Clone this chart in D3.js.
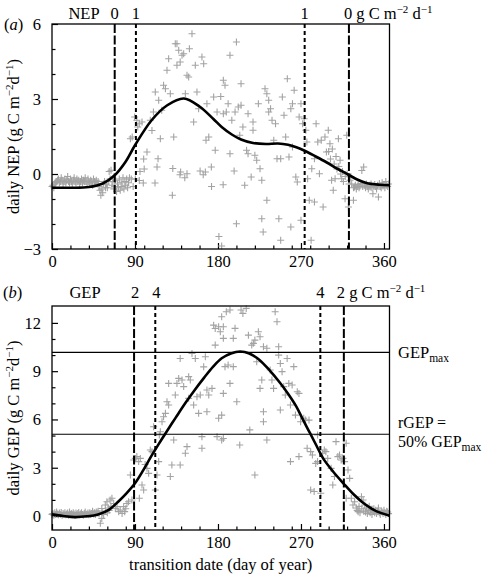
<!DOCTYPE html>
<html><head><meta charset="utf-8">
<script src="https://cdn.jsdelivr.net/npm/d3@7"></script>
<style>body{margin:0;background:#fff}svg{display:block}text{font-family:"Liberation Serif","Times New Roman",serif;fill:#000}</style>
</head><body><svg id="c" width="486" height="575"></svg>
<script>
// ---------- data ----------
const xMajorTicks = [0, 90, 180, 270, 360];
const xMinorTicks = [20, 40, 60, 80, 100, 120, 140, 160, 200, 220, 240, 260, 280, 300, 320, 340];
const nepMajorTicks = [-3, 0, 3, 6];
const nepMinorTicks = [-2, -1, 1, 2, 4, 5];
const gepMajorTicks = [0, 3, 6, 9, 12];
const gepMinorTicks = [1, 2, 4, 5, 7, 8, 10, 11];

// NEP daily values for days 0..58 (dense winter band)
const nepEarly = [-0.5,-0.45,-0.55,-0.4,-0.35,-0.3,-0.25,-0.2,-0.35,-0.3,-0.15,-0.25,-0.4,-0.3,-0.2,-0.35,-0.25,-0.1,-0.3,-0.35,-0.2,-0.3,-0.4,-0.25,-0.15,-0.3,-0.35,-0.2,-0.3,-0.25,-0.4,-0.3,-0.2,-0.35,-0.25,-0.3,-0.15,-0.3,-0.4,-0.2,-0.3,-0.35,-0.25,-0.3,-0.45,-0.2,-0.3,-0.35,-0.25,-0.4,-0.3,-0.5,-0.65,-0.85,-0.6,-0.75,-0.4,-0.3,-0.55];
// NEP remaining observations [day, value]
const nepPoints = [[59,-0.4],[60,-0.55],[61,-0.3],[62,0.1],[63,-0.2],[64,0.15],[65,-0.45],[66,-0.3],[67,-0.6],[68,-0.5],[69,-0.25],[70,-0.7],[71,-0.4],[72,-0.55],[73,-0.2],[74,-0.65],[75,-0.35],[76,-0.5],[77,-0.15],[78,-0.6],[79,-0.3],[80,-0.45],[81,-0.2],[82,-0.55],[83,-0.35],[84,-0.15],[85,1.41],[86,-0.2],[87,1.48],[88,-0.5],
[89.6,2.28],[90.4,-0.2],[92,2.15],[93,1.88],[94.7,2.01],[94.7,-0.26],[95.4,0.1],[97.6,2.08],[99,-0.36],[99.4,0.6],[100,0.2],[103,0.88],[106.6,2.15],[108.4,1.74],[110,2.48],[111.7,-0.36],[112,3.28],[113.9,0.28],[115,0.61],[115.7,2.95],[117.5,1.41],[119,2.55],[121,3.55],[123,3.41],[124.7,4.15],[126.5,4.61],[128.3,3.21],[130.5,-0.85],[131,0.22],[132,1.48],[133.7,5.21],[135.5,5.21],[135.5,4.35],[137.4,4.95],[138.8,-0.03],[139,4.48],[139.5,0.08],[141,4.75],[142.8,4.81],[144,-0.15],[144.6,3.21],[146.4,0.01],[146.4,3.95],[148.2,3.88],[149,5.01],[151.8,5.61],[153.6,2.08],[155.4,4.35],[157.2,3.28],[159,2.61],[160.6,0.12],[162.6,4.68],[164,-0.03],[164.5,4.41],[166.3,0.08],[167,1.35],[168,2.81],[170,1.48],[172.8,0.28],[173,-0.5],[175.3,3.08],[177,0.95],[179,2.48],[181,-2.5],[183,3.1],[184,-2.88],
[185.6,-0.43],[185.8,3.75],[187.6,3.55],[185.8,2.41],[193,4.75],[200,5.28],[191,2.81],[189,2.48],[195,2.15],[193,0.81],[197.5,0.12],[200,-1.99],[198.5,2.48],[202,2.68],[205,2.75],[205,3.61],[203.6,1.55],[207,1.88],[209,-0.45],[211,0.95],[212.6,2.41],[212.6,0.81],[216,-0.12],[218,2.08],[218,1.75],[220,0.75],[222,0.55],[223.8,2.81],[225.6,0.21],[227.5,-0.25],[227.5,-1.79],[229,-2.32],[231,3.41],[233,3.21],[235,2.95],[235,2.48],[233,-1.05],[237,2.61],[238.6,2.15],[240.5,1.35],[242.4,2.01],[244,0.61],[246,-1.79],[248,-2.65],[248,0.61],[249.8,3.08],[251.6,2.35],[253.4,1.48],[255.2,3.81],[257,0.68],[259,2.61],[259,-2.12],[260.8,2.81],[262.6,3.35],[260.8,1.08],[264.4,-0.12],[266,-0.32],[268,2.28],[270,-1.85],[270,2.81],[271.8,2.01],[273.5,2.21],[275.3,1.75],[276.4,1.28],[277.2,-0.19],[279,-1.05],[281,-2.65],[281.7,0.21],[284.6,0.61],[284.6,-1.12],[286.4,2.01],[288.2,1.28],[290,0.01],[292,1.35],[294,-1.32],[296,1.48],[297.6,0.88],[299.6,1.75],[301.4,1.21],[303.2,-0.25],[305,-0.65],[307,-0.19],[310.6,1.41],[312.4,0.55],[314.2,-0.19],[317.8,-0.99],[319.6,1.55],[321.4,-1.32],[323.2,-0.25],[326.9,-1.05],
[300,0.9],[302,0.6],[304,1.0],[306,0.4],[308,0.7],[309,0.2],[311,0.3],[313,0.0],[315,0.1],[316,-0.3],[318,-0.1],[320,0.0],[322,-0.4],[324,-0.1],
[325,-0.4],[327,-0.55],[328,-0.52],[329,-0.45],[330,-0.6],[331,-0.5],[332,-0.42],[333,-0.55],[334,-0.48],[335,-0.38],[336,0.14],[337,-0.5],[338,0.28],[339,-0.45],[340,-0.55],[341,-0.4],[342,-0.5],[343,-0.6],[344,-0.45],[345,-0.52],[346,-0.4],[347,-0.55],[348,-0.79],[349,-0.48],[350,-0.42],[351,-0.5],[352,-0.6],[353,-0.45],[354,-0.92],[355,-0.38],[356,-0.5],[357,-0.55],[358,-0.35],[359,-0.48],[360,-0.42],[361,-0.55],[362,-0.3],[363,-0.45],[364,-0.5],[365,-0.4]];
// NEP fitted curve [day, value]
const nepCurve = [[0,-0.55],[20,-0.55],[40,-0.52],[55,-0.38],[68,-0.05],[80,0.5],[90,1.15],[108,2.15],[125,2.75],[143,3.02],[160,2.7],[175,2.2],[184,1.88],[195,1.58],[205,1.38],[218,1.24],[232,1.2],[245,1.22],[256,1.17],[265,1.07],[274,0.93],[286,0.7],[298,0.46],[310,0.2],[321,-0.02],[331,-0.22],[341,-0.36],[355,-0.43],[366,-0.45]];
// NEP transition dates: thresholds 0 (long dash) and 1 (short dash)
const nepDates = [68, 91, 274, 322];
const nepDateKinds = ["long", "short", "short", "long"];

// GEP daily values for days 0..51
const gepEarly = [0.1,0.15,0.05,0.2,0.1,0.25,0.12,0.08,0.18,0.1,0.22,0.05,0.15,0.1,0.2,0.08,0.12,0.18,0.05,0.25,0.1,0.15,0.08,0.2,0.12,0.05,0.18,0.1,0.15,0.22,0.08,0.12,0.2,0.1,0.05,0.15,0.25,0.1,0.12,0.18,0.08,0.2,0.1,0.15,0.3,0.12,0.2,0.1,0.25,0.18,0.3,0.15];
const gepPoints = [[52.4,-0.45],[54,-0.15],[54,0.47],[55,0.2],[56,0.1],[57.8,0.68],[58,0.3],[59.6,0.89],[60,0.2],[61,0.5],[62,0.35],[63,0.99],[64,0.6],[65,1.1],[66.9,0.78],[68.7,0.47],[70.5,0.58],[72.3,0.27],[74,0.37],[76,0.16],[77.7,0.58],[78.8,0.27],[80,0.45],[81.3,0.78],[83,0.89],[85,2.55],[86.7,0.99],[88.6,3.48],[90.4,3.58],[92,3.69],[94,3.38],[94.7,1.1],[95.8,3.58],[97.6,1.93],[99.4,1.62],[101,3.2],[103,2.96],[104.8,2.65],[106.6,4.1],[108.4,4.0],[110.2,5.55],[112,1.62],[113.9,2.55],[115.7,3.38],[116.4,5.04],[117.5,5.24],[119.3,5.86],[121,6.17],[123,6.38],[124.7,7.1],[126.5,6.9],[126.5,8.24],[128.3,2.45],[130,3.17],[132,4.72],[133.7,7.52],[135.5,8.24],[137.4,8.55],[139,9.79],[139,3.17],[141,8.45],[142.8,8.04],[144.6,3.9],[146.4,4.31],[148.2,8.66],[148.2,7.31],[150,8.45],[151.8,10.1],[153.6,6.9],[155.4,9.79],[157.2,7.41],[159,6.38],[160.8,7.52],[162.6,4.93],[162.6,4.21],[164.5,9.27],[166.3,9.9],[168,7.83],[168,6.48],[170,7.52],[173.5,7.93],[175.3,11.86],[177,10.62],[177,11.65],[179,4.93],[180.7,6.07],[180.7,11.76],[182.5,11.45],
[184,12.38],[185.8,11.76],[184,4.72],[193,12.8],[189,12.69],[205,12.8],[207,12.59],[210.6,12.9],[196.6,11.04],[198.5,11.66],[185.8,11.04],[187.6,9.28],[191,9.38],[196.6,9.28],[193,8.24],[185.8,7.62],[200.4,7.1],[184,6.27],[185.8,4.82],[203.6,4.41],[214.5,5.35],[213,11.24],[216.6,10.62],[218.4,10.73],[220,10.93],[223.8,11.45],[225.6,11.14],[222,9.59],[220,2.55],[229.3,10.52],[233,10.42],[227.5,8.45],[225.6,7.93],[229.3,6.48],[229.3,5.86],[233,4.72],[236.6,9.07],[238.5,8.45],[240.3,7.93],[242,12.69],[244,12.07],[245.8,10.52],[245.8,10.0],[247.6,9.48],[247.6,6.59],[249.5,8.97],[251.3,8.04],[253,7.52],[255,9.79],[256.8,8.24],[258.6,3.38],[258.6,6.9],[260.4,8.14],[262.2,9.28],[264,6.27],[266,7.72],[267.8,7.62],[267.8,3.69],[269.6,5.86],[273,6.07],[275,5.96],[278.7,5.96],[280.5,1.62],[276.7,4.21],[280.5,4.0],[282.4,3.79],[284.3,1.52],[286,3.27],[288,5.04],[288,3.38],[291.5,1.41],[293.5,3.9],[295.3,4.1],[297,4.0],[299,3.58],[302.7,2.96],[304.5,1.93],[306.3,2.45],[308,4.62],[310,3.69],[311.8,3.79],[313.6,3.48],[315.5,3.58],[317.3,3.38],[319,4.52],[321,2.86],[322.8,2.34],[319,1.1],[324.6,1.1],[326.4,0.68],[328.2,0.89],[332,0.27],[335.6,1.2],[337.4,0.99],[339.2,0.68],
[330,0.5],[331,0.35],[333,0.6],[334,0.2],[336,0.45],[338,0.3],[340,0.25],[341,0.5],[342,0.15],[343,0.35],[344,0.6],[345,0.2],[346,0.4],[347,0.1],[348,0.3],[349,0.45],[350,0.2],[351,0.35],[352,0.15],[353,0.3],[354,0.5],[355,0.2],[356,0.1],[357,0.3],[358,0.25],[359,0.15],[360,0.35],[361,0.2],[362,0.1],[363,0.3],[364,0.25],[365,0.15]];
const gepCurve = [[0,0.1],[12,0.0],[25,-0.07],[38,-0.02],[50,0.1],[62,0.4],[72,0.9],[81,1.42],[90,2.03],[99,2.85],[108,3.75],[116,4.5],[123,5.13],[134,6.1],[145,7.05],[155,7.85],[165,8.6],[175,9.3],[184,9.8],[194,10.1],[204,10.22],[214,10.1],[225,9.7],[236,9.05],[247,8.3],[256,7.6],[265,6.8],[272,6.0],[280,5.13],[287,4.35],[294,3.58],[305,2.75],[316,2.03],[327,1.35],[338,0.79],[350,0.35],[366,0.02]];
// GEP transition dates: thresholds 2 (long dash) and 4 (short dash)
const gepDates = [89, 112, 291, 316.5];
const gepDateKinds = ["long", "short", "short", "long"];
const gepMax = 10.17;
const gepHalf = 5.08;

// ---------- drawing ----------
const svg = d3.select("#c");
const FS = 16.5;
const X0 = 52, X1 = 389.5;
const x = d3.scaleLinear().domain([0, 366]).range([X0, X1]);
const yN = d3.scaleLinear().domain([-3, 6]).range([249, 24]);
const yG = d3.scaleLinear().domain([-0.87, 13.05]).range([530, 306]);

function panel(y, majors, minors, early, pts, curve, dates, kinds) {
  const [yb, yt] = y.range();
  const g = svg.append("g");
  const xa = d3.axisBottom(x).tickValues(xMajorTicks).tickSizeInner(-6).tickSizeOuter(0).tickPadding(6).tickFormat(d3.format("d"));
  const gx = g.append("g").attr("transform", `translate(0,${yb})`).call(xa);
  gx.select(".domain").remove();
  gx.selectAll("text").attr("font-size", FS).attr("font-family", "Liberation Serif");
  const xm = d3.axisBottom(x).tickValues(xMinorTicks).tickSizeInner(-3.5).tickSizeOuter(0).tickFormat("");
  const gxm = g.append("g").attr("transform", `translate(0,${yb})`).call(xm);
  gxm.select(".domain").remove();
  const ya = d3.axisLeft(y).tickValues(majors).tickSizeInner(-6).tickSizeOuter(0).tickPadding(11).tickFormat(d => d < 0 ? "\u2212" + Math.abs(d) : d);
  const gy = g.append("g").attr("transform", `translate(${X0},0)`).call(ya);
  gy.select(".domain").remove();
  gy.selectAll("text").attr("font-size", FS).attr("font-family", "Liberation Serif");
  const ym = d3.axisLeft(y).tickValues(minors).tickSizeInner(-3.5).tickSizeOuter(0).tickFormat("");
  const gym = g.append("g").attr("transform", `translate(${X0},0)`).call(ym);
  gym.select(".domain").remove();
  g.selectAll(".tick line").attr("stroke", "#000").attr("stroke-width", 1.2);

  const all = early.map((v, i) => [i, v]).concat(pts);
  g.append("g").selectAll("path").data(all).join("path")
    .attr("d", d => `M${x(d[0]) - 3.5},${y(d[1])}h7M${x(d[0])},${y(d[1]) - 3.5}v7`)
    .attr("stroke", "#a3a3a3").attr("stroke-width", 1.1).attr("fill", "none");

  g.append("g").selectAll("line").data(dates).join("line")
    .attr("x1", d => x(d)).attr("x2", d => x(d)).attr("y1", yt).attr("y2", yb)
    .attr("stroke", "#000").attr("stroke-width", 2)
    .attr("stroke-dasharray", (d, i) => kinds[i] === "long" ? "9,2.5" : "4,3");

  const line = d3.line().x(d => x(d[0])).y(d => y(d[1])).curve(d3.curveCatmullRom.alpha(0.5));
  g.append("path").datum(curve).attr("d", line).attr("fill", "none").attr("stroke", "#000").attr("stroke-width", 2.6);

  g.append("rect").attr("x", X0).attr("y", yt).attr("width", X1 - X0).attr("height", yb - yt)
    .attr("fill", "none").attr("stroke", "#000").attr("stroke-width", 1.3);
  return g;
}

panel(yN, nepMajorTicks, nepMinorTicks, nepEarly, nepPoints, nepCurve, nepDates, nepDateKinds);
const gB = panel(yG, gepMajorTicks, gepMinorTicks, gepEarly, gepPoints, gepCurve, gepDates, gepDateKinds);

gB.append("g").selectAll("line").data([gepMax, gepHalf]).join("line")
  .attr("x1", X0).attr("x2", X1).attr("y1", d => yG(d)).attr("y2", d => yG(d))
  .attr("stroke", "#000").attr("stroke-width", 1.2);

// ---------- text ----------
function unitText(xp, yp, lead) {
  const t = svg.append("text").attr("x", xp).attr("y", yp).attr("font-size", FS);
  t.append("tspan").text(lead + " g C m");
  t.append("tspan").attr("font-size", 11).attr("dy", -6).text("\u22122");
  t.append("tspan").attr("dy", 6).text(" d");
  t.append("tspan").attr("font-size", 11).attr("dy", -6).text("\u22121");
}
function label(xp, yp, s, anchor) {
  svg.append("text").attr("x", xp).attr("y", yp).attr("font-size", FS).attr("text-anchor", anchor || "middle").text(s);
}
const pa = svg.append("text").attr("x", 4).attr("y", 30).attr("font-size", FS);
pa.append("tspan").text("(");
pa.append("tspan").attr("font-style", "italic").text("a");
pa.append("tspan").text(")");
label(84, 19, "NEP");
label(x(nepDates[0]), 19, "0");
label(x(nepDates[1]), 19, "1");
label(x(nepDates[2]), 19, "1");
unitText(x(nepDates[3]) - 5, 19, "0");

const pb = svg.append("text").attr("x", 3).attr("y", 298).attr("font-size", FS);
pb.append("tspan").text("(");
pb.append("tspan").attr("font-style", "italic").text("b");
pb.append("tspan").text(")");
label(85, 298, "GEP");
label(x(gepDates[0]) + 1, 298, "2");
label(x(gepDates[1]) + 1, 298, "4");
label(x(gepDates[2]), 298, "4");
unitText(x(gepDates[3]) - 7, 298, "2");

const gm = svg.append("text").attr("x", 398).attr("y", 358).attr("font-size", FS);
gm.append("tspan").text("GEP");
gm.append("tspan").attr("font-size", 11.5).attr("dy", 4).text("max");
svg.append("text").attr("x", 398).attr("y", 428).attr("font-size", 16).text("rGEP =");
const gh = svg.append("text").attr("x", 398).attr("y", 447).attr("font-size", 16);
gh.append("tspan").text("50% GEP");
gh.append("tspan").attr("font-size", 11.5).attr("dy", 4).text("max");

function yTitle(cy, name) {
  const t = svg.append("text").attr("transform", `translate(19,${cy}) rotate(-90)`).attr("text-anchor", "middle").attr("font-size", FS);
  t.append("tspan").text("daily " + name + " (g C m");
  t.append("tspan").attr("font-size", 11).attr("dy", -6).text("\u22122");
  t.append("tspan").attr("dy", 6).text("d");
  t.append("tspan").attr("font-size", 11).attr("dy", -6).text("\u22121");
  t.append("tspan").attr("dy", 6).text(")");
}
yTitle(136.5, "NEP");
yTitle(418, "GEP");
label((X0 + X1) / 2, 570, "transition date (day of year)");
</script></body></html>
